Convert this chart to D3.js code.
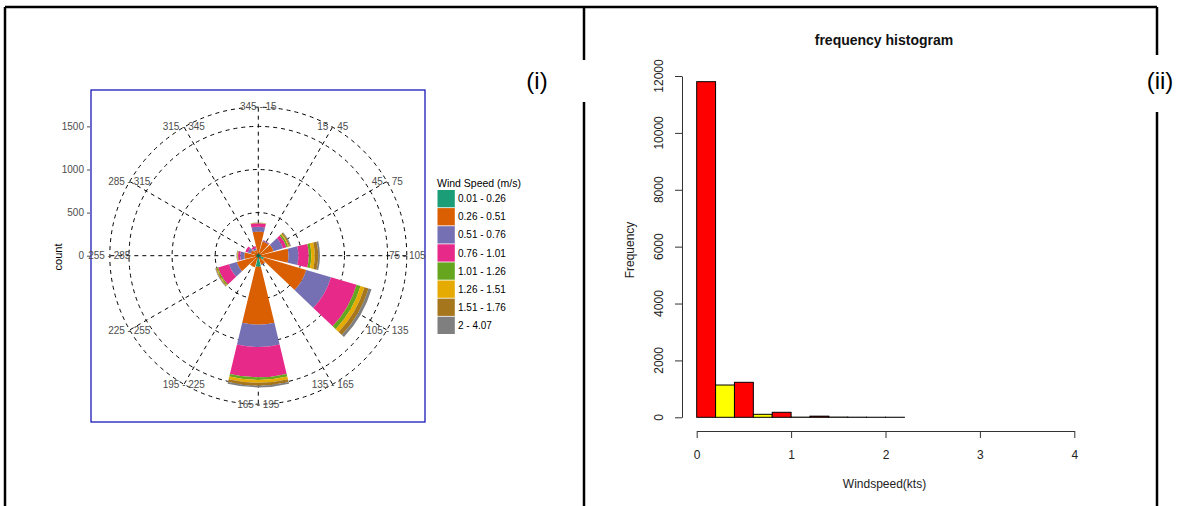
<!DOCTYPE html>
<html>
<head>
<meta charset="utf-8">
<script src="https://cdn.jsdelivr.net/npm/d3@7"></script>
<style>
  body { margin:0; background:#fff; }
  svg { display:block; font-family:"Liberation Sans", Arial, sans-serif; }
</style>
</head>
<body>
<div id="canvas" class="canvas"></div>
<script>
// --- wind rose data (counts per direction sector, one array per speed class)
var directions = ["345 - 15","15 - 45","45 - 75","75 - 105","105 - 135","135 - 165",
                  "165 - 195","195 - 225","225 - 255","255 - 285","285 - 315","315 - 345"];
var speedBins = ["0.01 - 0.26","0.26 - 0.51","0.51 - 0.76","0.76 - 1.01",
                 "1.01 - 1.26","1.26 - 1.51","1.51 - 1.76","2 - 4.07"];
var s1 = [25, 23, 25, 35, 70, 20, 128, 20, 25, 25, 20, 15];
var s2 = [255, 151, 160, 315, 510, 90, 672, 120, 236, 137, 73, 55];
var s3 = [57, 12, 115, 115, 300, 5, 260, 0, 93, 47, 35, 23];
var s4 = [39, 5, 42, 120, 310, 0, 350, 0, 133, 26, 29, 23];
var s5 = [2, 0, 18, 30, 48, 0, 30, 0, 12, 6, 0, 0];
var s6 = [3, 0, 12, 40, 47, 0, 33, 0, 9, 5, 0, 0];
var s7 = [2, 0, 13, 40, 50, 0, 35, 0, 8, 3, 0, 0];
var s8 = [2, 0, 10, 20, 35, 0, 19, 0, 6, 4, 0, 0];
var roseTicks = [0, 500, 1000, 1500];

// --- histogram data
var histBreaks = [0, 0.2, 0.4, 0.6, 0.8, 1.0, 1.2, 1.4, 1.6, 1.8, 2.0, 2.2];
var histCounts = [11800, 1135, 1230, 105, 176, 6, 40, 8, 4, 2, 2];
var histXTicks = [0, 1, 2, 3, 4];
var histYTicks = [0, 2000, 4000, 6000, 8000, 10000, 12000];

var roseColors = ["#1B9E77","#D95F02","#7570B3","#E7298A","#66A61E","#E6AB02","#A6761D","#7f7f7f"];
var histColors = ["#ff0000","#ffff00"];

var W = 1177, H = 506;
var svg = d3.select('.canvas').append('svg')
    .attr('width', W).attr('height', H);

// --- frame lines
var frame = [
  [5, 7, 1157, 7], [5, 7, 5, 506],
  [584, 7, 584, 60], [584, 102, 584, 506],
  [1157, 7, 1157, 55], [1157, 112, 1157, 506]
];
svg.selectAll('line.frame').data(frame).enter().append('line')
    .attr('class','frame')
    .attr('x1', function(d){return d[0];}).attr('y1', function(d){return d[1];})
    .attr('x2', function(d){return d[2];}).attr('y2', function(d){return d[3];})
    .style('stroke','#000').style('stroke-width', 2.5);

svg.append('text').attr('x', 537).attr('y', 89).attr('text-anchor','middle')
    .style('font-size','24px').text('(i)');
svg.append('text').attr('x', 1160).attr('y', 89).attr('text-anchor','middle')
    .style('font-size','24px').text('(ii)');

// ================= wind rose =================
var cx = 258.3, cy = 255.7;
var r = d3.scaleLinear().domain([0, 1500]).range([0, 129.3]);
var rOuter = 148.5;

svg.append('rect').attr('x', 91).attr('y', 90).attr('width', 334).attr('height', 332)
    .style('fill','none').style('stroke','#1a1ab8').style('stroke-width', 1.3);

var rose = svg.append('g').attr('transform','translate('+cx+','+cy+')');

// grid rings
rose.selectAll('circle.grid').data(roseTicks.slice(1).map(function(t){return r(t);}).concat([rOuter]))
  .enter().append('circle')
    .attr('r', function(d){return d;})
    .style('fill','none').style('stroke','#000').style('stroke-width',1)
    .style('stroke-dasharray','4,4');

// spokes
var deg = Math.PI / 180;
rose.selectAll('line.spoke').data(directions).enter().append('line')
    .attr('x1', 0).attr('y1', 0)
    .attr('x2', function(d,i){return rOuter*Math.sin(i*30*deg);})
    .attr('y2', function(d,i){return -rOuter*Math.cos(i*30*deg);})
    .style('stroke','#000').style('stroke-width',1).style('stroke-dasharray','4,4');

// stacked bars
var series = [s1, s2, s3, s4, s5, s6, s7, s8];
var table = directions.map(function(d, i){
  var row = {dir: d};
  speedBins.forEach(function(b, j){ row[b] = series[j][i]; });
  return row;
});
var stacked = d3.stack().keys(speedBins)(table);
var arc = d3.arc();
var half = 13.5 * deg;

stacked.forEach(function(layer, j){
  rose.append('g').selectAll('path').data(layer).enter().append('path')
    .attr('d', function(d, i){
      return arc({innerRadius: r(d[0]), outerRadius: r(d[1]),
                  startAngle: i*30*deg - half, endAngle: i*30*deg + half});
    })
    .style('fill', roseColors[j]);
});

// direction labels
rose.selectAll('text.dir').data(directions).enter().append('text')
    .attr('x', function(d,i){return 149*Math.sin(i*30*deg);})
    .attr('y', function(d,i){return -149*Math.cos(i*30*deg);})
    .attr('dy','0.35em').attr('text-anchor','middle')
    .style('font-size','10px').style('fill','#4d4d4d')
    .text(function(d){return d;});

// radial axis on the left
var yRose = d3.scaleLinear().domain([0, 1500]).range([cy, cy - 129.3]);
var ax = svg.append('g').attr('transform','translate(90,0)')
    .call(d3.axisLeft(yRose).tickValues(roseTicks).tickSize(3).tickPadding(3).tickFormat(d3.format('d')));
ax.select('.domain').remove();
ax.selectAll('line').style('stroke','#4d4d4d');
ax.selectAll('text').style('font-size','10px').style('fill','#4d4d4d')
    .style('font-family','"Liberation Sans", Arial, sans-serif');

svg.append('text').attr('transform','translate(62,257) rotate(-90)')
    .attr('text-anchor','middle').style('font-size','11px').text('count');

// legend
var leg = svg.append('g');
leg.append('text').attr('x', 437).attr('y', 187).style('font-size','10.5px').text('Wind Speed (m/s)');
leg.selectAll('rect').data(speedBins).enter().append('rect')
    .attr('x', 437.5).attr('y', function(d,i){return 190 + 18.1*i;})
    .attr('width', 17.3).attr('height', 17.3)
    .style('fill', function(d,i){return roseColors[i];});
leg.selectAll('text.lab').data(speedBins).enter().append('text')
    .attr('x', 458).attr('y', function(d,i){return 190 + 18.1*i + 8.7;})
    .attr('dy','0.35em').style('font-size','10px')
    .text(function(d){return d;});

// ================= histogram =================
var x = d3.scaleLinear().domain([0, 4]).range([696.7, 1074.3]);
var y = d3.scaleLinear().domain([0, 12000]).range([417.3, 76]);

svg.append('text').attr('x', 884).attr('y', 45).attr('text-anchor','middle')
    .style('font-size','14px').style('font-weight','bold').style('fill','#111')
    .text('frequency histogram');

svg.append('g').selectAll('rect').data(histCounts).enter().append('rect')
    .attr('x', function(d,i){return x(histBreaks[i]);})
    .attr('width', function(d,i){return x(histBreaks[i+1]) - x(histBreaks[i]);})
    .attr('y', function(d){return y(d);})
    .attr('height', function(d){return y(0) - y(d);})
    .style('fill', function(d,i){return histColors[i % 2];})
    .style('stroke','#000').style('stroke-width',1);

var xa = svg.append('g').attr('transform','translate(0,431)')
    .call(d3.axisBottom(x).tickValues(histXTicks).tickSize(7).tickSizeOuter(0).tickPadding(12)
      .tickFormat(d3.format('d')));
xa.selectAll('path, line').style('stroke','#333');
xa.selectAll('text').style('font-size','12px').style('fill','#222')
    .style('font-family','"Liberation Sans", Arial, sans-serif');

var ya = svg.append('g').attr('transform','translate(682,0)')
    .call(d3.axisLeft(y).tickValues(histYTicks).tickSize(7).tickSizeOuter(0).tickFormat(''));
ya.selectAll('path, line').style('stroke','#333');
svg.append('g').selectAll('text').data(histYTicks).enter().append('text')
    .attr('transform', function(d){return 'translate(663,'+y(d)+') rotate(-90)';})
    .attr('text-anchor','middle').style('font-size','12px').style('fill','#222')
    .text(function(d){return d;});

svg.append('text').attr('transform','translate(634,250) rotate(-90)')
    .attr('text-anchor','middle').style('font-size','12px').style('fill','#222').text('Frequency');
svg.append('text').attr('x', 884.5).attr('y', 488).attr('text-anchor','middle')
    .style('font-size','12px').style('fill','#222').text('Windspeed(kts)');
</script>
</body>
</html>
